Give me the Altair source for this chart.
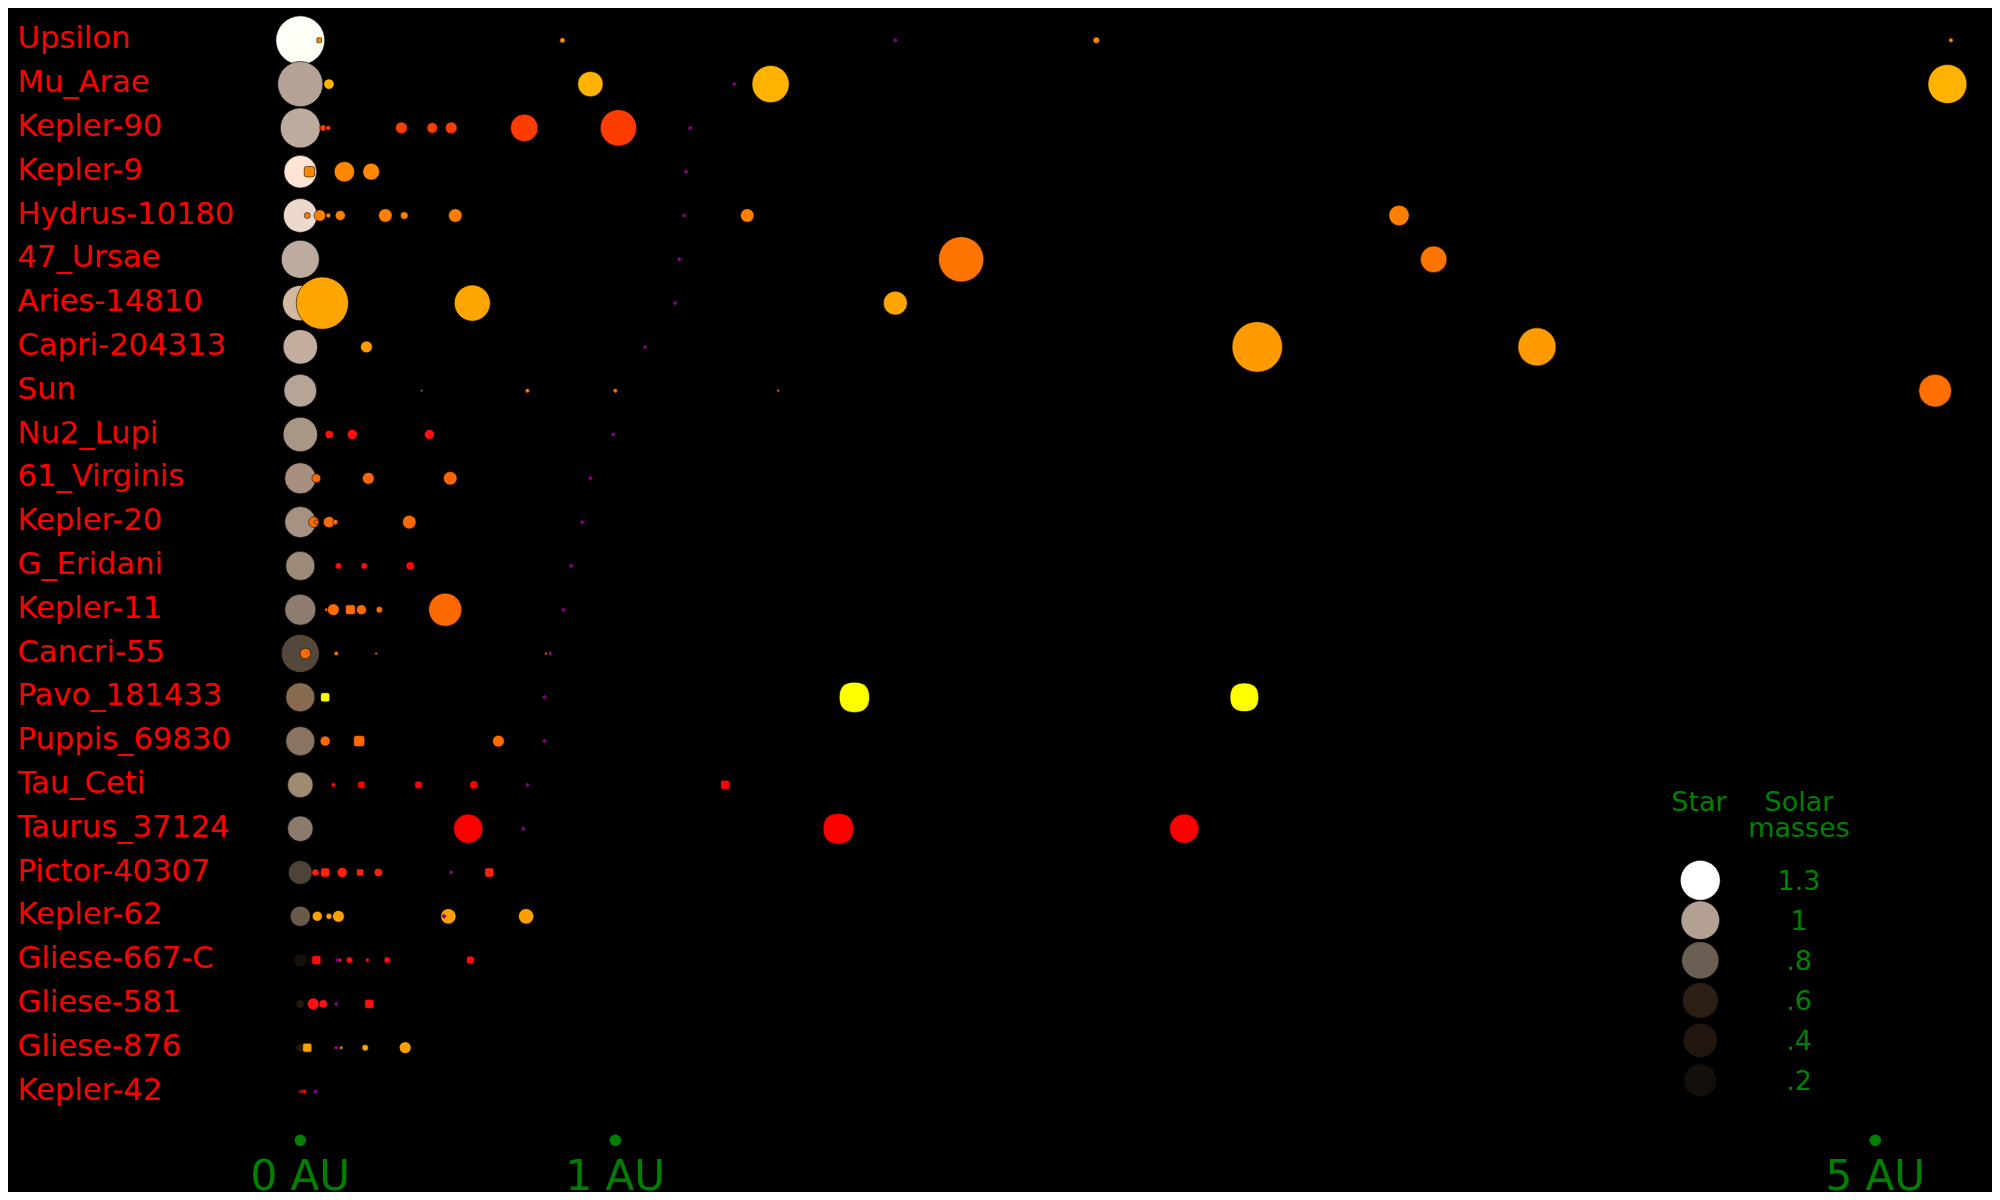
import math
import altair as alt
import pandas as pd

# ---------------- data ----------------
SYSTEMS = ["Upsilon", "Mu_Arae", "Kepler-90", "Kepler-9", "Hydrus-10180", "47_Ursae",
           "Aries-14810", "Capri-204313", "Sun", "Nu2_Lupi", "61_Virginis", "Kepler-20",
           "G_Eridani", "Kepler-11", "Cancri-55", "Pavo_181433", "Puppis_69830", "Tau_Ceti",
           "Taurus_37124", "Pictor-40307", "Kepler-62", "Gliese-667-C", "Gliese-581",
           "Gliese-876", "Kepler-42"]

# star radius (solar radii)
STAR_RADIUS = [1.49, 1.38, 1.22, 1.00, 1.03, 1.16, 1.08, 1.05, 1.00, 1.05, 0.95, 0.95,
               0.89, 0.95, 1.16, 0.89, 0.89, 0.78, 0.78, 0.73, 0.62, 0.41, 0.26, 0.27, 0.14]

# Earth-equivalent insolation distance (purple marks), AU; None = hidden
HZ_AU = [1.889, 1.378, 1.238, 1.225, 1.219, 1.203, 1.190, 1.095, None, 0.994, 0.921, 0.895,
         0.860, 0.835, 0.794, 0.775, 0.775, 0.721, 0.708, 0.479, 0.456, 0.117, 0.114, 0.114, 0.048]

# planets per system: orbit (AU)
PLANET_AU = [
    [0.060, 0.832, 2.527, 5.24],
    [0.091, 0.921, 1.493, 5.229],
    [0.072, 0.089, 0.321, 0.419, 0.479, 0.711, 1.010],
    [0.029, 0.140, 0.225],
    [0.022, 0.062, 0.089, 0.127, 0.270, 0.330, 0.492, 1.419, 3.488],
    [2.098, 3.598],
    [0.070, 0.546, 1.889],
    [0.210, 3.038, 3.926],
    [0.385, 0.721, 1.000, 1.517, 5.19],
    [0.092, 0.165, 0.410],
    [0.051, 0.216, 0.476],
    [0.043, 0.051, 0.091, 0.111, 0.346],
    [0.121, 0.203, 0.349],
    [0.083, 0.105, 0.159, 0.194, 0.251, 0.460],
    [0.016, 0.114, 0.241, 0.780],
    [0.079, 1.759, 2.997],
    [0.079, 0.187, 0.629],
    [0.105, 0.194, 0.375, 0.551, 1.349],
    [0.533, 1.708, 2.806],
    [0.048, 0.079, 0.133, 0.190, 0.248, 0.600],
    [0.054, 0.091, 0.121, 0.470, 0.717],
    [0.051, 0.126, 0.156, 0.213, 0.276, 0.540],
    [0.041, 0.073, 0.219],
    [0.022, 0.130, 0.206, 0.333],
    [0.000, 0.006, 0.013],
]
# planets per system: relative size
PLANET_SIZE = [
    [5, 6, 7.3, 5],
    [11.7, 28.7, 42, 44],
    [7, 5.5, 13.3, 12, 13.3, 31, 41],
    [10.7, 23, 19],
    [6.7, 13, 5.5, 11.3, 15.3, 8.7, 15.3, 15.3, 23],
    [51, 30],
    [59, 40.7, 27],
    [13.3, 57, 43],
    [2.5, 5, 5, 3, 37],
    [9.3, 11.3, 11.3],
    [10, 13.3, 15.3],
    [12, 5, 12.7, 6, 15.3],
    [7.3, 7.3, 9.3],
    [4, 13.3, 10, 11.3, 7.3, 37.3],
    [12, 5, 3, 2.5],
    [9.3, 31, 29.3],
    [11.3, 11.3, 13.3],
    [5.3, 7.3, 7.3, 9.3, 9.3],
    [33, 31, 33],
    [8, 9.3, 11.3, 7.3, 9.3, 9.3],
    [11.3, 6.7, 13.3, 17.3, 17.3],
    [9.3, 4.7, 7.3, 4.7, 7.3, 9.3],
    [13.3, 9.3, 9.3],
    [9.3, 3, 7.3, 13.3],
    [4, 5, 5],
]
# planets per system: marker kind
PLANET_KIND = [
    ["square", "circle", "circle", "circle"],
    ["circle"] * 4,
    ["circle"] * 7,
    ["square", "circle", "circle"],
    ["circle"] * 9,
    ["circle"] * 2,
    ["circle"] * 3,
    ["circle"] * 3,
    ["circle"] * 5,
    ["circle"] * 3,
    ["circle"] * 3,
    ["circle"] * 5,
    ["circle"] * 3,
    ["circle", "circle", "square", "circle", "circle", "circle"],
    ["circle", "circle", "circle", "square"],
    ["square", "squircle", "squircle"],
    ["circle", "square", "circle"],
    ["circle", "square", "square", "circle", "square"],
    ["circle", "squircle", "circle"],
    ["circle", "square", "circle", "square", "circle", "square"],
    ["circle"] * 5,
    ["square", "circle", "circle", "circle", "circle", "circle"],
    ["circle", "circle", "square"],
    ["square", "square", "circle", "circle"],
    ["circle"] * 3,
]

LEGEND_MASS_LABELS = ["1.3", "1", ".8", ".6", ".4", ".2"]
LEGEND_TITLES = ["Star", "Solar", "masses"]
AXIS_AU = [0, 1, 5]
AXIS_LABELS = ["0 AU", "1 AU", "5 AU"]

# ---------------- styles ----------------
STAR_COLORS = ["#fffff8", "#b5a296", "#bcab9e", "#fee4d5", "#ecd8cc", "#bdab9f", "#d2b8a0",
               "#c3ad9f", "#b6a496", "#a89686", "#a89080", "#a69280", "#9e8a78", "#8d7c6f",
               "#54483c", "#876b50", "#8b7461", "#9f8a72", "#8a7b6d", "#4e4336", "#695b4b",
               "#15100b", "#22180f", "#1e150c", "#1a1209"]
PLANET_COLORS = ["#ff8c00", "#ffb300", "#ff3c00", "#ff8800", "#ff8000", "#ff7300", "#ffa500",
                 "#ff9a00", "#ff7000", "#ff0f0f", "#ff6600", "#ff6a00", "#ff0a0a", "#ff6a00",
                 "#ff6a00", "#ffff00", "#ff6a00", "#ff0000", "#ff0000", "#ff2010", "#ffa000",
                 "#ff0a0a", "#ff1010", "#ffa000", "#ff0000"]
LEGEND_COLORS = ["#ffffff", "#b3a093", "#6b5e52", "#2b1e15", "#21160f", "#150f0b"]
LEGEND_DIAM = [45, 37, 31, 25, 17, 11]
ROUNDED = ("M-0.6,-1.1H0.6Q1.1,-1.1 1.1,-0.6V0.6Q1.1,1.1 0.6,1.1H-0.6"
           "Q-1.1,1.1 -1.1,0.6V-0.6Q-1.1,-1.1 -0.6,-1.1Z")
SQUIRCLE = ("M0,-1.1C0.74,-1.1 1.1,-0.74 1.1,0C1.1,0.74 0.74,1.1 0,1.1"
            "C-0.74,1.1 -1.1,0.74 -1.1,0C-1.1,-0.74 -0.74,-1.1 0,-1.1Z")
FONT = "DejaVu Sans"
GREEN = "#008000"
OFF = 8  # page margin: plot coordinates = page coordinates - OFF

# ---------------- tables ----------------
stars = pd.DataFrame({"system": SYSTEMS, "idx": range(len(SYSTEMS)),
                      "radius": STAR_RADIUS, "au": [0.0] * len(SYSTEMS)})
rows = []
for i, s in enumerate(SYSTEMS):
    for a, z, k in zip(PLANET_AU[i], PLANET_SIZE[i], PLANET_KIND[i]):
        rows.append({"system": s, "idx": i, "au": a, "psize": z, "kind": k})
planets = pd.DataFrame(rows)
hz = pd.DataFrame([{"system": s, "idx": i, "au": h}
                   for i, (s, h) in enumerate(zip(SYSTEMS, HZ_AU)) if h is not None])
legend = pd.DataFrame({"label": LEGEND_MASS_LABELS, "k": range(len(LEGEND_MASS_LABELS))})
axis = pd.DataFrame({"au": AXIS_AU, "label": AXIS_LABELS})
titles = pd.DataFrame({"t": LEGEND_TITLES, "tx": [0, 1, 1], "ty": [0, 0, 1]})

X = alt.Scale(domain=[0, 5], range=[300.3 - OFF, 1875.3 - OFF])
Y = alt.Scale(domain=[0, 24], range=[40.3 - OFF, 1091.5 - OFF])
LY = alt.Scale(domain=[0, 5], range=[880.3 - OFF, 1080.3 - OFF])
TX = alt.Scale(domain=[0, 1], range=[1699 - OFF, 1799 - OFF])
TY = alt.Scale(domain=[0, 1], range=[811 - OFF, 837 - OFF])

star_layer = alt.Chart(stars).mark_circle(opacity=1, stroke="black", strokeWidth=1,
                                          strokeOpacity=0.6).encode(
    x=alt.X("au:Q", scale=X, axis=None),
    y=alt.Y("idx:Q", scale=Y, axis=None),
    size=alt.Size("radius:Q", scale=alt.Scale(type="pow", exponent=2, domain=[0, 2],
                                              range=[0, math.pi / 4 * 74 ** 2]), legend=None),
    color=alt.Color("system:N", scale=alt.Scale(domain=SYSTEMS, range=STAR_COLORS), legend=None),
)

planet_layer = alt.Chart(planets).mark_point(filled=True, opacity=1, stroke="black",
                                             strokeWidth=0.7, strokeOpacity=0.8).encode(
    x=alt.X("au:Q", scale=X, axis=None),
    y=alt.Y("idx:Q", scale=Y, axis=None),
    size=alt.Size("psize:Q", scale=alt.Scale(type="pow", exponent=2, domain=[0, 60],
                                             range=[0, math.pi / 4 * 60 ** 2]), legend=None),
    color=alt.Color("system:N", scale=alt.Scale(domain=SYSTEMS, range=PLANET_COLORS), legend=None),
    shape=alt.Shape("kind:N", scale=alt.Scale(domain=["circle", "square", "squircle"],
                                              range=["circle", ROUNDED, SQUIRCLE]), legend=None),
)

hz_layer = alt.Chart(hz).mark_point(filled=True, opacity=1, shape="diamond", size=24,
                                    color="#800080").encode(
    x=alt.X("au:Q", scale=X, axis=None),
    y=alt.Y("idx:Q", scale=Y, axis=None),
)

label_layer = alt.Chart(stars).mark_text(align="left", baseline="alphabetic", dy=8,
                                         font=FONT, fontSize=30.6, color="#ff0000").encode(
    x=alt.value(17.5 - OFF),
    y=alt.Y("idx:Q", scale=Y, axis=None),
    text="system:N",
)

axis_dots = alt.Chart(axis).mark_circle(opacity=1, color=GREEN, size=133).encode(
    x=alt.X("au:Q", scale=X, axis=None),
    y=alt.value(1140.3 - OFF),
)
axis_text = alt.Chart(axis).mark_text(align="center", baseline="alphabetic", font=FONT,
                                      fontSize=42, color=GREEN).encode(
    x=alt.X("au:Q", scale=X, axis=None),
    y=alt.value(1190 - OFF),
    text="label:N",
)

leg_titles = alt.Chart(titles).mark_text(align="center", baseline="alphabetic",
                                         font=FONT, fontSize=27, color=GREEN).encode(
    x=alt.X("tx:Q", scale=TX, axis=None),
    y=alt.Y("ty:Q", scale=TY, axis=None),
    text="t:N",
)

leg_circles = alt.Chart(legend).mark_circle(opacity=1, stroke="black", strokeWidth=0.5).encode(
    x=alt.value(1700.3 - OFF),
    y=alt.Y("k:Q", scale=LY, axis=None),
    size=alt.Size("label:N", scale=alt.Scale(domain=LEGEND_MASS_LABELS,
                                             range=[math.pi / 4 * d * d for d in LEGEND_DIAM]),
                  legend=None),
    color=alt.Color("label:N", scale=alt.Scale(domain=LEGEND_MASS_LABELS, range=LEGEND_COLORS),
                    legend=None),
)
leg_labels = alt.Chart(legend).mark_text(align="center", baseline="alphabetic", dy=10,
                                         font=FONT, fontSize=27, color=GREEN).encode(
    x=alt.value(1799 - OFF),
    y=alt.Y("k:Q", scale=LY, axis=None),
    text="label:N",
)

chart = alt.layer(
    star_layer, planet_layer, hz_layer, label_layer, axis_dots, axis_text,
    leg_titles, leg_circles, leg_labels,
).resolve_scale(
    x="independent", color="independent", size="independent", y="independent",
    shape="independent"
).properties(
    width=1984, height=1184, padding=0, autosize=alt.AutoSizeParams(type="none"),
).configure(background="black").configure_view(stroke=None)

chart.save("out.html", embed_options={"renderer": "svg", "actions": False})
